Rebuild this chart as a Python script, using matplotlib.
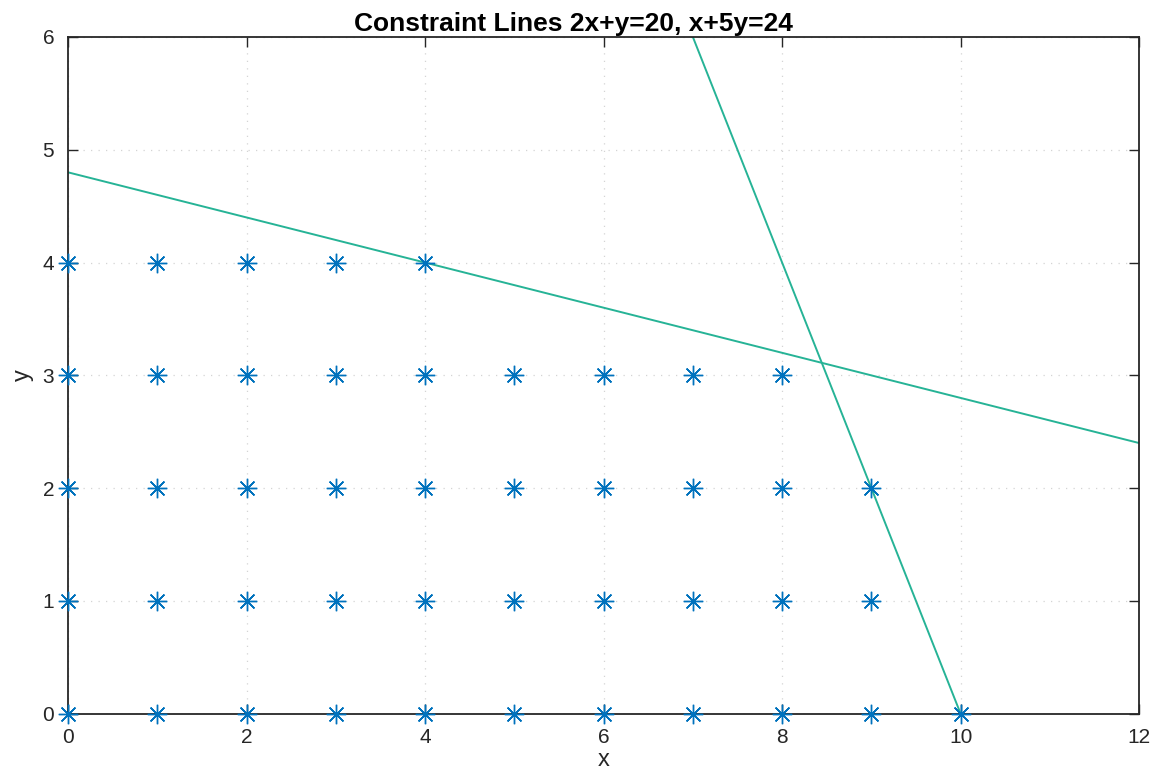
import numpy as np
import matplotlib.pyplot as plt

plt.rcParams['font.family'] = ['Liberation Sans', 'DejaVu Sans']

# feasible integer points (x, y)
px = [0, 1, 2, 3, 4,
      0, 1, 2, 3, 4, 5, 6, 7, 8,
      0, 1, 2, 3, 4, 5, 6, 7, 8, 9,
      0, 1, 2, 3, 4, 5, 6, 7, 8, 9,
      0, 1, 2, 3, 4, 5, 6, 7, 8, 9, 10]
py = [4] * 5 + [3] * 9 + [2] * 10 + [1] * 10 + [0] * 11

# constraint lines
line1_x = [7, 10]     # 2x+y=20
line1_y = [6, 0]
line2_x = [0, 12]     # x+5y=24
line2_y = [4.8, 2.4]

fig = plt.figure(figsize=(11.53, 7.70), dpi=100)
ax = fig.add_axes([0.059, 0.073, 0.929, 0.879])

ax.plot(px, py, color='#0072BD', markersize=14, markeredgewidth=1.0,
        marker=(8, 2, 0), linestyle='none', clip_on=False, zorder=3)
ax.plot(line1_x, line1_y, color='#26b396', linewidth=1.4)
ax.plot(line2_x, line2_y, color='#26b396', linewidth=1.4)

ax.set_xlim(0, 12)
ax.set_ylim(0, 6)
ax.set_xticks(np.arange(0, 13, 2))
ax.set_yticks(np.arange(0, 7, 1))
ax.grid(True, linestyle=(0, (1, 5)), color='#d4d4d4', linewidth=0.9)
ax.tick_params(direction='in', top=True, right=True, length=7, width=1,
               labelsize=15, colors='#262626', pad=10)
for s in ax.spines.values():
    s.set_color('#262626')
    s.set_linewidth(1.3)

ax.set_xlabel('x', fontsize=17, color='#262626', labelpad=2)
ax.set_ylabel('y', fontsize=17, color='#262626', labelpad=6)
ax.set_title('Constraint Lines 2x+y=20, x+5y=24', fontsize=19,
             fontweight='bold', x=0.472, pad=4)

fig.savefig('out.png', dpi=100)
